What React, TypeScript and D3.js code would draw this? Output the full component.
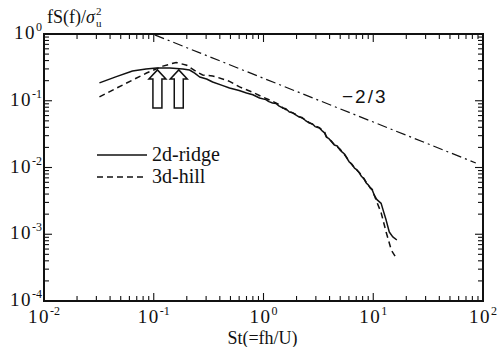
import React, { useEffect, useRef } from 'react';
import * as d3 from 'd3';

// 2d-ridge spectrum (solid)
const ridgeSt = [0.032, 0.045, 0.064, 0.085, 0.106, 0.14, 0.184, 0.212, 0.236, 0.262, 0.303, 0.344, 0.42, 0.49, 0.6, 0.7, 0.8, 0.92, 1.05, 1.12, 1.21, 1.3, 1.38, 1.49, 1.6, 1.72, 1.85, 1.95, 2.12, 2.25, 2.4, 2.62, 2.8, 2.95, 3.23, 3.45, 3.6, 3.74, 3.95, 4.15, 4.42, 4.7, 4.95, 5.22, 5.5, 5.75, 6.05, 6.4, 6.75, 7.1, 7.46, 7.8, 8.2, 8.63, 9.0, 9.4, 9.8, 10.2, 10.8, 11.8, 12.4, 13.1, 14.0, 15.0, 15.5, 16.4];
const ridgeS = [0.185, 0.228, 0.279, 0.3, 0.31, 0.31, 0.3, 0.289, 0.26, 0.227, 0.212, 0.191, 0.17, 0.155, 0.142, 0.131, 0.123, 0.11, 0.104, 0.097, 0.0925, 0.091, 0.084, 0.078, 0.076, 0.068, 0.066, 0.062, 0.057, 0.056, 0.051, 0.0464, 0.045, 0.041, 0.039, 0.035, 0.033, 0.0286, 0.027, 0.0245, 0.0217, 0.021, 0.0185, 0.017, 0.0158, 0.0138, 0.0121, 0.0112, 0.0098, 0.0092, 0.0083, 0.0074, 0.0068, 0.00586, 0.0055, 0.0049, 0.0046, 0.00387, 0.0033, 0.0029, 0.0022, 0.00163, 0.00108, 0.00092, 0.00088, 0.00082];

// 3d-hill spectrum (dashed)
const hillSt = [0.032, 0.052, 0.086, 0.121, 0.16, 0.2, 0.246, 0.279, 0.344, 0.374, 0.49, 0.605, 0.79, 0.98, 1.18, 1.35, 1.49, 1.72, 1.95, 2.12, 2.4, 2.62, 2.95, 3.23, 3.6, 3.74, 4.15, 4.42, 4.95, 5.22, 5.75, 6.05, 6.75, 7.46, 8.2, 8.63, 9.4, 9.8, 10.6, 11.8, 13.1, 14.6, 16.2];
const hillS = [0.114, 0.172, 0.26, 0.33, 0.375, 0.34, 0.27, 0.243, 0.235, 0.227, 0.195, 0.161, 0.135, 0.114, 0.1, 0.09, 0.079, 0.069, 0.063, 0.058, 0.052, 0.047, 0.042, 0.0395, 0.034, 0.029, 0.025, 0.022, 0.019, 0.0172, 0.014, 0.0123, 0.0099, 0.0084, 0.0069, 0.006, 0.005, 0.0047, 0.00326, 0.0021, 0.00108, 0.00058, 0.00044];

// -2/3 reference line end points
const slopeSt = [0.102, 86];
const slopeS = [0.97, 0.0117];

// peak arrows
const arrowSt = [0.108, 0.169];
const arrowTopS = 0.29;
const arrowBottomS = 0.078;

const xTickExps = ['-2', '-1', '0', '1', '2'];
const yTickExps = ['-4', '-3', '-2', '-1', '0'];
const legendLabels = ['2d-ridge', '3d-hill'];

const width = 499;
const height = 347;
const margin = { left: 44, right: 16, top: 34, bottom: 46 };
const serif = "'Liberation Serif', Tinos, 'Times New Roman', 'DejaVu Serif', serif";

const SpectrumChart = () => {
  const svgRef = useRef<SVGSVGElement>(null);

  useEffect(() => {
    const svg = d3.select(svgRef.current);
    svg.selectAll('*').remove();

    const xScale = d3.scaleLog().domain([1e-2, 1e2]).range([margin.left, width - margin.right]);
    const yScale = d3.scaleLog().domain([1e-4, 1]).range([height - margin.bottom, margin.top]);
    const x0 = margin.left, x1 = width - margin.right;
    const y0 = height - margin.bottom, y1 = margin.top;

    /* ticks ------------------------------- */
    const isMajor = (v: number) => Math.abs(Math.log10(v) - Math.round(Math.log10(v))) < 1e-6;
    const tk = svg.append('g').attr('stroke', '#111').attr('stroke-width', 1.1);
    xScale.ticks().forEach(v => {
      const len = isMajor(v) ? 8 : 5;
      const px = xScale(v);
      tk.append('line').attr('x1', px).attr('x2', px).attr('y1', y0).attr('y2', y0 - len);
      tk.append('line').attr('x1', px).attr('x2', px).attr('y1', y1).attr('y2', y1 + len);
    });
    yScale.ticks().forEach(v => {
      const len = isMajor(v) ? 8 : 5;
      const py = yScale(v);
      tk.append('line').attr('x1', x0).attr('x2', x0 + len).attr('y1', py).attr('y2', py);
      tk.append('line').attr('x1', x1).attr('x2', x1 - len).attr('y1', py).attr('y2', py);
    });

    svg.append('rect')
      .attr('x', x0).attr('y', y1).attr('width', x1 - x0).attr('height', y0 - y1)
      .attr('fill', 'none').attr('stroke', '#111').attr('stroke-width', 2);

    /* tick labels ------------------------------- */
    xTickExps.forEach(e => {
      const t = svg.append('text')
        .attr('x', xScale(Math.pow(10, +e)))
        .attr('y', y0 + 22)
        .attr('text-anchor', 'middle')
        .style('font-family', serif)
        .style('font-size', '19px')
        .attr('fill', '#111');
      t.append('tspan').attr('letter-spacing', 1.5).text('10');
      t.append('tspan').attr('dy', -8).style('font-size', '12px').text(e);
    });
    yTickExps.forEach(e => {
      const t = svg.append('text')
        .attr('x', x0 - 2)
        .attr('y', yScale(Math.pow(10, +e)) + 5)
        .attr('text-anchor', 'end')
        .style('font-family', serif)
        .style('font-size', '19px')
        .attr('fill', '#111');
      t.append('tspan').attr('letter-spacing', 1.5).text('10');
      t.append('tspan').attr('dy', -8).style('font-size', '12px').text(e);
    });

    /* axis titles ------------------------------- */
    svg.append('text')
      .attr('x', (x0 + x1) / 2 - 1).attr('y', height - 3)
      .attr('text-anchor', 'middle')
      .style('font-family', serif).style('font-size', '18px').attr('fill', '#111')
      .text('St(=fh/U)');
    const yt = svg.append('text')
      .attr('x', 47).attr('y', 23)
      .style('font-family', serif).style('font-size', '18px').attr('fill', '#111');
    yt.append('tspan').text('fS(f)/');
    yt.append('tspan').style('font-style', 'italic').text('σ');
    const ytNode = yt.node() as SVGTextElement;
    const scriptX = 47 + ytNode.getComputedTextLength() + 1;
    svg.append('text').attr('x', scriptX).attr('y', 15)
      .style('font-family', serif).style('font-size', '11px').attr('fill', '#111').text('2');
    svg.append('text').attr('x', scriptX).attr('y', 27)
      .style('font-family', serif).style('font-size', '11px').attr('fill', '#111').text('u');

    /* lines ------------------------------- */
    const line = d3.line<[number, number]>()
      .x(d => xScale(d[0]))
      .y(d => yScale(d[1]));

    const ridge = ridgeSt.map((s, i) => [s, ridgeS[i]] as [number, number]);
    const hill = hillSt.map((s, i) => [s, hillS[i]] as [number, number]);
    const slope = slopeSt.map((s, i) => [s, slopeS[i]] as [number, number]);

    svg.append('path').attr('d', line(slope))
      .attr('fill', 'none').attr('stroke', '#111').attr('stroke-width', 1.2)
      .attr('stroke-dasharray', '10,4,2,4');
    svg.append('path').attr('d', line(hill))
      .attr('fill', 'none').attr('stroke', '#111').attr('stroke-width', 1.5)
      .attr('stroke-dasharray', '6,4');
    svg.append('path').attr('d', line(ridge))
      .attr('fill', 'none').attr('stroke', '#111').attr('stroke-width', 1.5)
      .attr('stroke-linejoin', 'round');

    svg.append('text')
      .attr('x', 342).attr('y', 103)
      .style('font-family', "'Liberation Sans', Arimo, Arial, sans-serif")
      .style('font-size', '19px').attr('letter-spacing', 2).attr('fill', '#111')
      .text('\u22122/3');

    /* arrows ------------------------------- */
    arrowSt.forEach(s => {
      const cx = xScale(s);
      const ty = yScale(arrowTopS);
      const by = yScale(arrowBottomS);
      const hb = ty + 9;
      const pts: [number, number][] = [
        [cx, ty], [cx + 8.5, hb], [cx + 4.5, hb], [cx + 4.5, by],
        [cx - 4.5, by], [cx - 4.5, hb], [cx - 8.5, hb],
      ];
      svg.append('path')
        .attr('d', 'M' + pts.map(p => p.join(',')).join('L') + 'Z')
        .attr('fill', '#fff').attr('stroke', '#111').attr('stroke-width', 1.5);
    });

    /* legend ------------------------------- */
    legendLabels.forEach((label, i) => {
      const ly = 155 + i * 22;
      svg.append('line')
        .attr('x1', 97).attr('x2', 147).attr('y1', ly).attr('y2', ly)
        .attr('stroke', '#111').attr('stroke-width', 1.5)
        .attr('stroke-dasharray', i === 0 ? null : '6,4');
      svg.append('text')
        .attr('x', 152).attr('y', ly + 6)
        .style('font-family', serif).style('font-size', '20px').attr('fill', '#111')
        .text(label);
    });
  }, []);

  return (
    <svg
      ref={svgRef}
      width={width}
      height={height}
      style={{ position: 'absolute', left: 0, top: 0, background: '#fff' }}
    />
  );
};

export default function App() {
  return <SpectrumChart />;
}
